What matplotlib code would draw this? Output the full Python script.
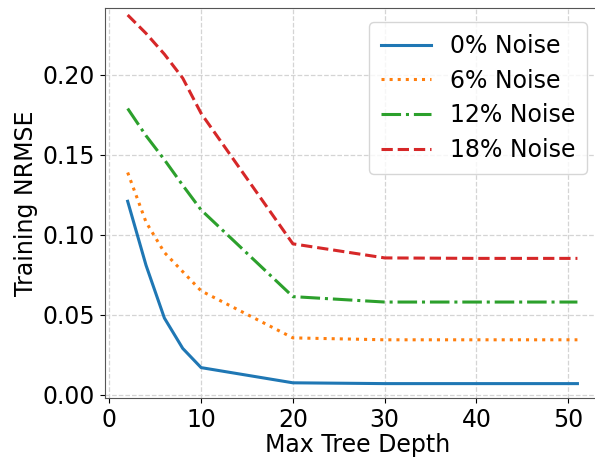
import numpy as np
import matplotlib.pyplot as plt

depths = [2, 4, 6, 8, 10, 20, 30, 40, 51]
labels = ["0% Noise", "6% Noise", "12% Noise", "18% Noise"]
nrmse_0 = [0.121, 0.081, 0.048, 0.029, 0.017, 0.0075, 0.007, 0.007, 0.007]
nrmse_6 = [0.139, 0.108, 0.089, 0.077, 0.065, 0.0356, 0.0344, 0.0344, 0.0344]
nrmse_12 = [0.179, 0.162, 0.147, 0.131, 0.1156, 0.0614, 0.058, 0.058, 0.058]
nrmse_18 = [0.2375, 0.226, 0.213, 0.198, 0.176, 0.0944, 0.0856, 0.0853, 0.0853]

series = [nrmse_0, nrmse_6, nrmse_12, nrmse_18]
styles = ['-', ':', '-.', '--']
colors = ['tab:blue', 'tab:orange', 'tab:green', 'tab:red']

fig = plt.figure(figsize=(5.95, 4.58), dpi=100)
ax = fig.add_axes([0.176, 0.131, 0.85, 0.852])

for vals, ls, c, lab in zip(series, styles, colors, labels):
    ax.plot(depths, vals, linestyle=ls, color=c, linewidth=2.2, label=lab)

ax.set_xlim(-0.5, 54.6)
ax.set_ylim(-0.002, 0.242)
ax.set_xticks([0, 10, 20, 30, 40, 50])
ax.set_yticks([0.0, 0.05, 0.10, 0.15, 0.20])
ax.yaxis.set_major_formatter(plt.FormatStrFormatter('%.2f'))
ax.tick_params(labelsize=17)
ax.grid(True, linestyle='--', color='#d4d4d4', linewidth=0.9)
for s in ax.spines.values():
    s.set_color('#555555')

ax.set_xlabel('Max Tree Depth', fontsize=17, labelpad=1)
ax.set_ylabel('Training NRMSE', fontsize=17, labelpad=3)
leg = ax.legend(fontsize=17, loc='upper right', bbox_to_anchor=(0.977, 0.993),
                handlelength=2.1, borderpad=0.5, labelspacing=0.45)

fig.savefig('out.png', dpi=100)
